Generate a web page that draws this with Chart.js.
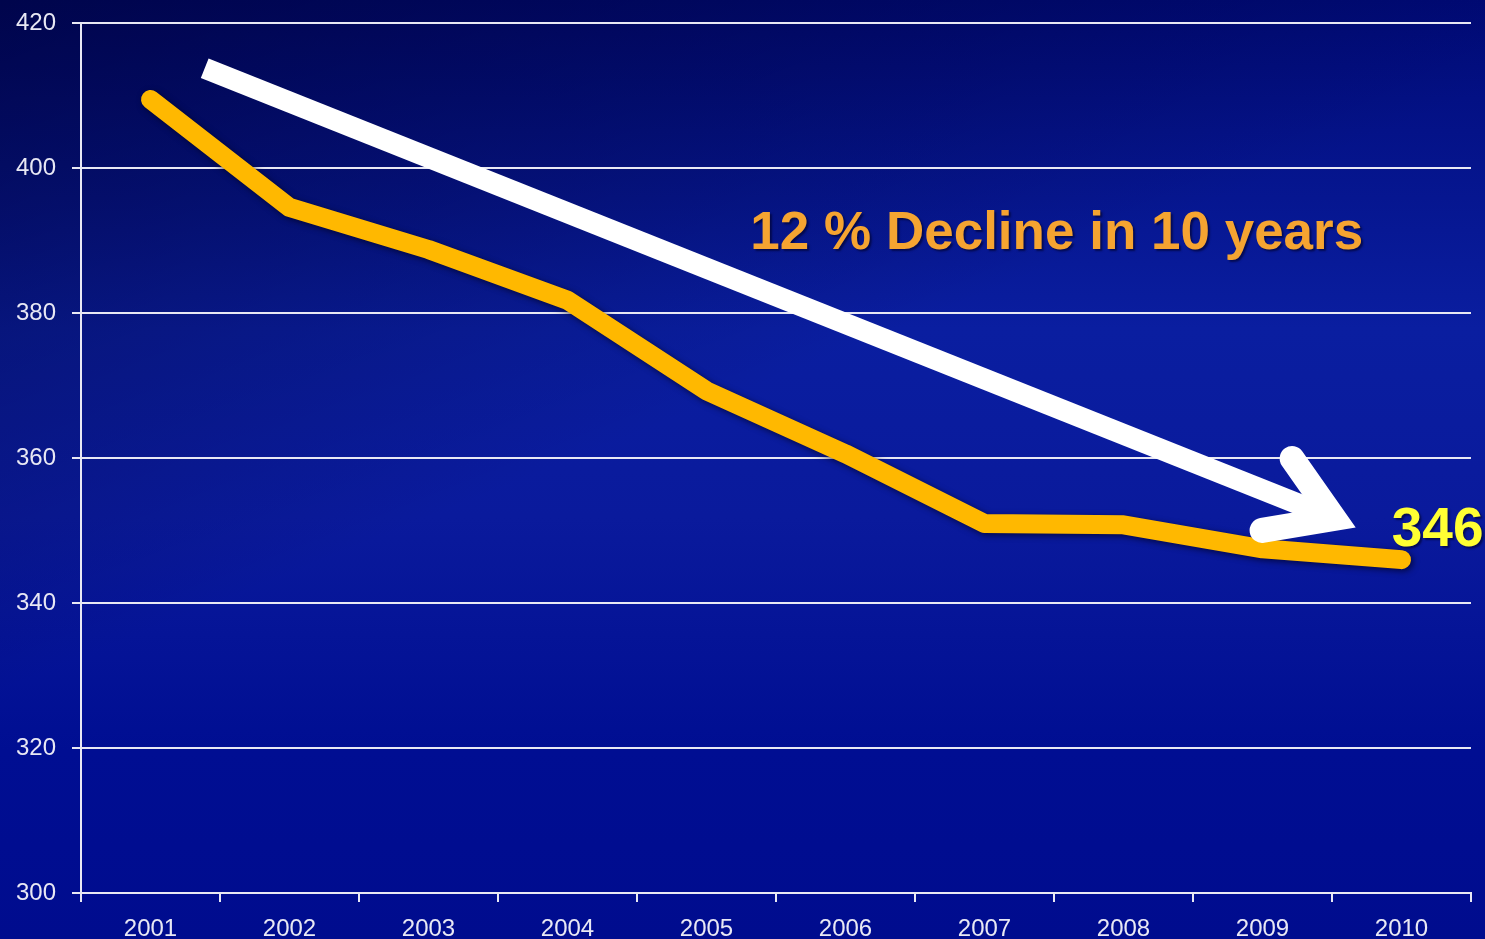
<!DOCTYPE html>
<html>
<head>
<meta charset="utf-8">
<script src="https://cdn.jsdelivr.net/npm/chart.js@4"></script>
<style>
  html, body { margin: 0; padding: 0; }
  body {
    width: 1485px; height: 939px; overflow: hidden;
    background:
      linear-gradient(158deg, rgba(0,0,40,0.55) 0%, rgba(0,0,40,0.25) 25%, rgba(0,0,0,0) 45%),
      linear-gradient(180deg, #000a78 0%, #0a1ea0 35%, #0a1a9c 55%, #000e92 80%, #000c8e 100%);
  }
  #wrap { position: relative; top: -7px; width: 1485px; height: 946px; }
</style>
</head>
<body>
<div id="wrap"><canvas id="chart"></canvas></div>
<script>
(function () {
  'use strict';

  const years = ['2001', '2002', '2003', '2004', '2005', '2006', '2007', '2008', '2009', '2010'];
  const values = [409.5, 394.6, 388.8, 381.8, 369.3, 360.6, 351.0, 350.8, 347.5, 346.0];
  const yTicks = [300, 320, 340, 360, 380, 400, 420];

  // trend arrow, in data units (category index, value)
  const arrowFrom = [0.39, 413.8];
  const arrowTo = [8.515, 351.7];
  const declineText = '12 % Decline in 10 years';
  const declineAt = [6.52, 390.9];
  const lastText = '346';
  const lastAt = [8.93, 350.0];

  const TEXT_COLOR = '#e8e8f4';
  const LINE_COLOR = '#ffb800';

  const annotations = {
    id: 'annotations',
    afterDatasetsDraw(chart) {
      const { ctx, scales: { x, y } } = chart;
      const x0 = x.getPixelForValue(arrowFrom[0]), y0 = y.getPixelForValue(arrowFrom[1]);
      const x1 = x.getPixelForValue(arrowTo[0]), y1 = y.getPixelForValue(arrowTo[1]);
      const ang = Math.atan2(y1 - y0, x1 - x0);
      const head = 73;
      ctx.save();
      ctx.strokeStyle = '#ffffff';
      ctx.lineWidth = 21;
      ctx.lineCap = 'butt';
      ctx.beginPath();
      ctx.moveTo(x0, y0);
      ctx.lineTo(x1, y1);
      ctx.stroke();
      ctx.lineCap = 'round';
      ctx.lineJoin = 'miter';
      ctx.lineWidth = 25;
      const a1 = ang + Math.PI + 0.58, a2 = ang + Math.PI - 0.545;
      ctx.beginPath();
      ctx.moveTo(x1 + Math.cos(a1) * head, y1 + Math.sin(a1) * head);
      ctx.lineTo(x1, y1);
      ctx.lineTo(x1 + Math.cos(a2) * head, y1 + Math.sin(a2) * head);
      ctx.stroke();

      ctx.textBaseline = 'middle';
      ctx.shadowColor = 'rgba(0,0,40,0.6)';
      ctx.shadowOffsetX = 2; ctx.shadowOffsetY = 2; ctx.shadowBlur = 2;
      ctx.fillStyle = '#f5a431';
      ctx.font = 'bold 53px "Liberation Sans", Arial, sans-serif';
      ctx.textAlign = 'center';
      ctx.fillText(declineText, x.getPixelForValue(declineAt[0]), y.getPixelForValue(declineAt[1]));
      ctx.fillStyle = '#ffff33';
      ctx.font = 'bold 55px "Liberation Sans", Arial, sans-serif';
      ctx.textAlign = 'left';
      ctx.fillText(lastText, x.getPixelForValue(lastAt[0]), y.getPixelForValue(lastAt[1]));
      ctx.restore();
    }
  };

  const lineShadow = {
    id: 'lineShadow',
    beforeDatasetDraw(chart) {
      const ctx = chart.ctx;
      ctx.save();
      ctx.shadowColor = 'rgba(0,0,30,0.7)';
      ctx.shadowBlur = 6;
      ctx.shadowOffsetX = 2;
      ctx.shadowOffsetY = 2;
    },
    afterDatasetDraw(chart) { chart.ctx.restore(); }
  };

  new Chart(document.getElementById('chart'), {
    type: 'line',
    data: {
      labels: years,
      datasets: [{
        data: values,
        borderColor: LINE_COLOR,
        borderWidth: 19,
        borderCapStyle: 'round',
        borderJoinStyle: 'round',
        pointRadius: 0,
        tension: 0,
        fill: false,
      }],
    },
    options: {
      responsive: true, maintainAspectRatio: false, animation: false,
      layout: { padding: { top: 3, right: 14, bottom: 0, left: 0 } },
      plugins: { legend: { display: false }, tooltip: { enabled: false } },
      scales: {
        x: {
          offset: true,
          grid: { offset: true, drawOnChartArea: false, color: TEXT_COLOR, lineWidth: 2, tickLength: 9 },
          border: { color: TEXT_COLOR, width: 2 },
          ticks: { color: TEXT_COLOR, font: { family: '"Liberation Sans", Arial, sans-serif', size: 24 }, padding: 13, maxRotation: 0 },
          afterFit(s) { s.height = 46; },
        },
        y: {
          min: 300, max: 420,
          afterBuildTicks(s) { s.ticks = yTicks.map(v => ({ value: v })); },
          grid: { color: TEXT_COLOR, lineWidth: 2, tickLength: 9 },
          border: { color: TEXT_COLOR, width: 2 },
          ticks: { color: TEXT_COLOR, font: { family: '"Liberation Sans", Arial, sans-serif', size: 24 }, padding: 16 },
          afterFit(s) { s.width = 81; },
        },
      },
    },
    plugins: [lineShadow, annotations],
  });
})();
</script>
</body>
</html>
